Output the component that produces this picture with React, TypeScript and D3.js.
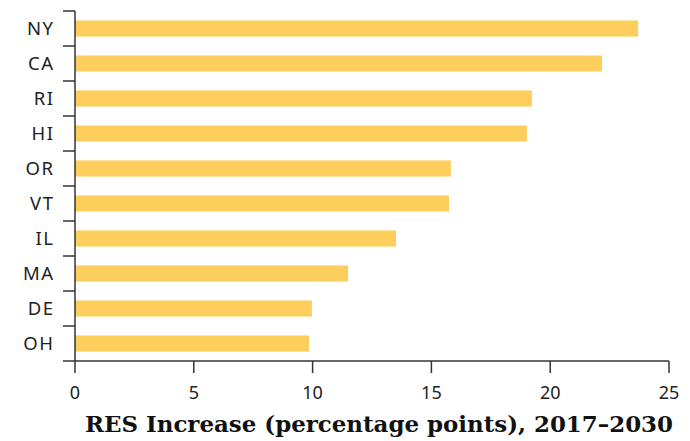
import React from "react";
import * as d3 from "d3";

const states = ["NY", "CA", "RI", "HI", "OR", "VT", "IL", "MA", "DE", "OH"];
const increases = [23.7, 22.18, 19.23, 19.02, 15.82, 15.74, 13.51, 11.49, 9.97, 9.85];
const xTicks = [0, 5, 10, 15, 20, 25];
const axisTitle = "RES Increase (percentage points), 2017–2030";

const W = 690;
const H = 441;
const M = { left: 75, right: 21, top: 11, bottom: 80 };

export default function App() {
  const x = d3.scaleLinear().domain([0, 25]).range([M.left, W - M.right]);
  const y = d3.scaleBand<string>().domain(states).range([M.top, H - M.bottom]).paddingInner(0).paddingOuter(0);
  const bw = y.bandwidth();
  const barH = bw * 0.46;
  const axisColor = "#333";
  const boundaries = states.map((s) => y(s)!).concat([H - M.bottom]);
  const sans = "'Noto Sans', 'Open Sans', sans-serif";
  return (
    <svg width={W} height={H} style={{ position: "absolute", left: 0, top: 0, background: "#fff" }}>
      {states.map((s, i) => (
        <rect key={s} x={x(0)} y={y(s)! + (bw - barH) / 2} width={x(increases[i]) - x(0)} height={barH} fill="#FDCE5C" />
      ))}
      {/* y axis */}
      <line x1={x(0)} x2={x(0)} y1={M.top} y2={H - M.bottom} stroke={axisColor} strokeWidth={1.5} />
      {boundaries.map((b, i) => (
        <line key={i} x1={x(0) - 12} x2={x(0)} y1={b} y2={b} stroke={axisColor} strokeWidth={1.5} />
      ))}
      {states.map((s) => (
        <text key={s} x={x(0) - 20.5} y={y(s)! + bw / 2} dy="0.36em" textAnchor="end" fontFamily={sans} fontSize={18.5} letterSpacing={1.5} fill="#222">
          {s}
        </text>
      ))}
      {/* x axis */}
      <line x1={x(0)} x2={x(25)} y1={H - M.bottom} y2={H - M.bottom} stroke={axisColor} strokeWidth={1.5} />
      {xTicks.map((t) => (
        <g key={t}>
          <line x1={x(t)} x2={x(t)} y1={H - M.bottom} y2={H - M.bottom + 12} stroke={axisColor} strokeWidth={1.5} />
          <text x={x(t)} y={H - M.bottom + 38} textAnchor="middle" fontFamily={sans} fontSize={18} fill="#222">
            {t}
          </text>
        </g>
      ))}
      <text x={85} y={432} fontFamily="'DejaVu Serif', 'Liberation Serif', serif" fontWeight="bold" fontSize={22} fill="#111" textLength={588} lengthAdjust="spacingAndGlyphs">
        {axisTitle}
      </text>
    </svg>
  );
}
